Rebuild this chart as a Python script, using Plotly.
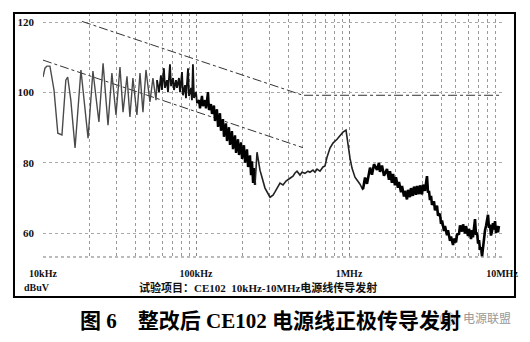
import plotly.graph_objects as go

# ---------------- data (frequency in kHz, level in dBuV) ----------------
freq_osc = [10.0, 10.3, 10.6, 11.1, 11.8, 12.5, 13.3, 14.1, 14.5, 15.2, 16.2, 17.7, 19.7,
            21.2, 23.2, 24.7, 26.6, 28.2, 30.0, 31.85, 33.35, 35.4, 37.0, 38.7, 41.1,
            43.05, 45.0, 47.1, 50.0, 52.3, 54.8, 55.6]
level_osc = [104.4, 106.9, 107.5, 107.5, 100.7, 88.4, 87.9, 103.5, 104.4, 97.8, 84.2, 106.4, 87.0,
             106.1, 91.6, 108.3, 90.7, 105.5, 93.6, 107.2, 94.4, 104.6, 93.0, 104.1, 93.6,
             105.5, 94.4, 106.4, 97.3, 104.1, 97.8, 103.5]

freq_band_a = [55.6, 57.3, 59.0, 59.9, 61.7, 62.7, 64.6, 65.6, 67.6, 68.7, 70.8, 71.8, 74.0,
               75.1, 77.4, 78.6, 81.0, 82.2, 84.8, 86.0, 88.7, 90.0, 92.8, 94.1, 95.5, 97.0,
               100.0, 101.5]
level_band_a = [103.5, 100.1, 104.9, 100.7, 106.9, 101.3, 103.5, 100.1, 108.0, 101.8, 104.1, 100.7, 103.5,
                101.3, 104.1, 100.1, 105.8, 99.2, 102.1, 98.4, 106.9, 99.0, 101.3, 97.8, 108.0, 98.4,
                100.1, 97.0]

freq_band_b = [101.5, 104.6, 106.2, 109.4, 111.1, 114.5, 116.2, 119.8, 121.6, 125.3, 127.2, 131.1,
               133.0, 137.1, 139.3, 143.5, 145.6, 150.1, 152.3, 157.0, 159.4, 164.3, 166.8, 171.8,
               174.5, 179.9, 182.6, 188.2, 191.0, 196.9, 199.9, 205.9, 209.2, 215.5, 218.8, 225.5,
               228.8, 232.4, 235.9, 239.5, 243.1]
level_band_b = [97.0, 97.8, 95.5, 99.0, 96.1, 97.8, 95.5, 100.1, 95.0, 96.7, 93.9, 96.3,
                91.9, 95.2, 90.2, 94.1, 89.1, 92.4, 87.4, 91.2, 86.2, 90.1, 85.1, 89.0,
                83.9, 87.8, 82.8, 86.7, 82.2, 85.8, 81.1, 85.0, 80.0, 83.8, 78.8, 82.1,
                76.5, 80.4, 74.3, 78.5, 73.7]

freq_mid = [243.1, 246.8, 250.5, 261.9, 282.5, 304.6, 318.8, 328.3, 343.4, 354.0, 370.3, 387.5,
            411.5, 430.4, 443.6, 457.3, 478.2, 493.1, 515.5, 539.0, 555.7, 581.6, 599.5, 618.0,
            646.3, 676.0, 696.8, 718.3, 751.3, 785.7, 835.0, 873.3, 913.3, 956.0, 985.1, 1015,
            1046, 1094, 1128, 1180, 1235]
level_mid = [73.7, 80.8, 83.0, 77.9, 72.8, 70.2, 70.8, 71.7, 73.4, 74.2, 73.7, 74.8,
             75.6, 76.2, 77.1, 77.6, 76.5, 77.3, 77.0, 77.6, 77.3, 77.9, 77.3, 78.2,
             77.6, 78.8, 79.1, 81.6, 84.2, 85.6, 86.7, 87.6, 88.7, 89.3, 84.7, 81.3,
             78.5, 75.9, 75.1, 73.9, 72.2]

freq_band_c = [1235, 1273, 1311, 1372, 1413, 1457, 1524, 1570, 1594, 1643, 1693, 1771, 1826, 1852,
               1909, 1940, 1997, 2027, 2089, 2123, 2188, 2221, 2289, 2321, 2393, 2431, 2503, 2541,
               2617, 2660, 2742, 2783, 2868, 2909, 2999, 3046, 3137, 3184, 3234, 3284, 3333, 3383,
               3437, 3488, 3594, 3648, 3761, 3817, 3933, 3994, 4055, 4178, 4241, 4372, 4436, 4573,
               4642, 4786, 4857, 5006, 5085, 5236, 5318, 5483, 5565, 5735, 5818, 5997, 6087, 6273,
               6374, 6457, 6561, 6663, 6761, 6871, 6977, 7076, 7184, 7291, 7406, 7512, 7626, 7746,
               7861, 7985, 8101, 8222, 8350, 8472, 8608, 8730, 8865, 9002, 9141, 9280, 9418, 9550]
level_band_c = [72.5, 75.8, 74.0, 78.6, 76.6, 79.6, 78.0, 80.0, 77.4, 79.2, 76.3, 78.2, 75.2, 77.6,
                74.3, 76.8, 73.6, 75.9, 72.9, 74.5, 71.6, 73.4, 70.4, 72.0, 69.6, 72.3, 70.2, 72.8,
                70.6, 73.2, 70.9, 73.4, 71.1, 73.6, 71.0, 73.8, 72.0, 74.0, 76.2, 71.5, 72.0, 69.4,
                70.6, 68.0, 69.0, 66.5, 67.8, 65.0, 65.5, 62.6, 63.6, 60.6, 62.0, 59.4, 60.8, 57.8,
                59.0, 56.6, 58.4, 57.4, 59.6, 59.8, 62.2, 60.4, 62.5, 59.9, 62.0, 59.2, 61.2, 58.3,
                60.8, 58.8, 62.0, 64.0, 59.5, 60.2, 57.0, 58.0, 55.2, 56.0, 53.4, 56.2, 58.0, 60.8,
                62.0, 64.0, 65.2, 61.5, 62.4, 59.3, 60.6, 62.8, 61.0, 63.4, 60.0, 62.0, 60.2, 62.0]

limit_freq = [18.0, 500.0, 9800.0]
limit_upper = [120.2, 99.2, 99.2]
ref_freq = [10.0, 500.0]
ref_lower = [109.2, 84.3]

x_tickvals = [10, 100, 1000, 10000]
x_ticktext = ["10kHz", "100kHz", "1MHz", "10MHz"]
y_tickvals = [60, 80, 100, 120]

SERIF_CJK = "Liberation Serif, Noto Sans CJK SC, serif"

fig = go.Figure()

fig.add_trace(go.Scatter(x=limit_freq, y=limit_upper, mode="lines",
                         line=dict(color="#333", width=1, dash="dashdot"), hoverinfo="skip"))
fig.add_trace(go.Scatter(x=ref_freq, y=ref_lower, mode="lines",
                         line=dict(color="#333", width=1, dash="dashdot"), hoverinfo="skip"))

fig.add_trace(go.Scatter(x=freq_osc, y=level_osc, mode="lines",
                         line=dict(color="#4a4a4a", width=1.4)))
fig.add_trace(go.Scatter(x=freq_band_a, y=level_band_a, mode="lines",
                         line=dict(color="#111", width=1.8)))
fig.add_trace(go.Scatter(x=freq_band_b, y=level_band_b, mode="lines",
                         line=dict(color="#000", width=2.4)))
fig.add_trace(go.Scatter(x=freq_mid, y=level_mid, mode="lines",
                         line=dict(color="#222", width=1.6)))
fig.add_trace(go.Scatter(x=freq_band_c, y=level_band_c, mode="lines",
                         line=dict(color="#000", width=2.6)))

fig.update_layout(
    width=530, height=342,
    margin=dict(l=43, r=28, t=13, b=85),
    paper_bgcolor="white", plot_bgcolor="white",
    showlegend=False,
    xaxis=dict(
        type="log", range=[1, 4],
        tickmode="array", tickvals=x_tickvals, ticktext=x_ticktext,
        tickfont=dict(family=SERIF_CJK, size=10, color="#111", weight="bold"),
        ticklabelstandoff=9,
        showgrid=True, gridcolor="#888", griddash="dot", gridwidth=1,
        minor=dict(dtick="D1", showgrid=True, gridcolor="#999", griddash="dot", gridwidth=1),
        showline=False, zeroline=False, ticks="",
    ),
    yaxis=dict(
        range=[53.2, 122.6],
        tickmode="array", tickvals=y_tickvals,
        tickfont=dict(family=SERIF_CJK, size=11, color="#111", weight="bold"),
        ticklabelstandoff=8,
        showgrid=True, gridcolor="#aaa", griddash="dot", gridwidth=1,
        showline=False, zeroline=False, ticks="",
    ),
    shapes=[
        dict(type="rect", xref="paper", yref="paper", x0=-0.0632, x1=1.0283, y0=-0.164, y1=1.0,
             line=dict(color="#000", width=2), fillcolor="rgba(0,0,0,0)", layer="above"),
        dict(type="line", xref="paper", yref="paper", x0=0, x1=1, y0=0, y1=0,
             line=dict(color="#777", width=1, dash="dot")),
        dict(type="circle", xref="paper", yref="paper", x0=0.865, x1=0.897, y0=-0.283, y1=-0.225,
             line=dict(color="#bbb", width=1), fillcolor="rgba(220,220,220,0.85)", layer="above"),
    ],
    annotations=[
        dict(text="dBuV", xref="paper", yref="paper", x=-0.013, y=-0.123,
             xanchor="center", yanchor="middle", showarrow=False,
             font=dict(family=SERIF_CJK, size=10, color="#111", weight="bold")),
        dict(text="试验项目：CE102  10kHz-10MHz电源线传导发射", xref="paper", yref="paper",
             x=0.468, y=-0.123, xanchor="center", yanchor="middle", showarrow=False,
             font=dict(family=SERIF_CJK, size=11, color="#111", weight="bold")),
        dict(text="图 6\u00a0\u00a0\u00a0 整改后 CE102 电源线正极传导发射", xref="paper", yref="paper",
             x=0.4967, y=-0.262, xanchor="center", yanchor="middle", showarrow=False,
             font=dict(family=SERIF_CJK, size=21, color="#000", weight="bold")),
        dict(text="电源联盟", xref="paper", yref="paper", x=0.967, y=-0.246,
             xanchor="center", yanchor="middle", showarrow=False,
             font=dict(family="Noto Sans CJK SC", size=12, color="#999")),
    ],
)

fig.write_html("out.html")
